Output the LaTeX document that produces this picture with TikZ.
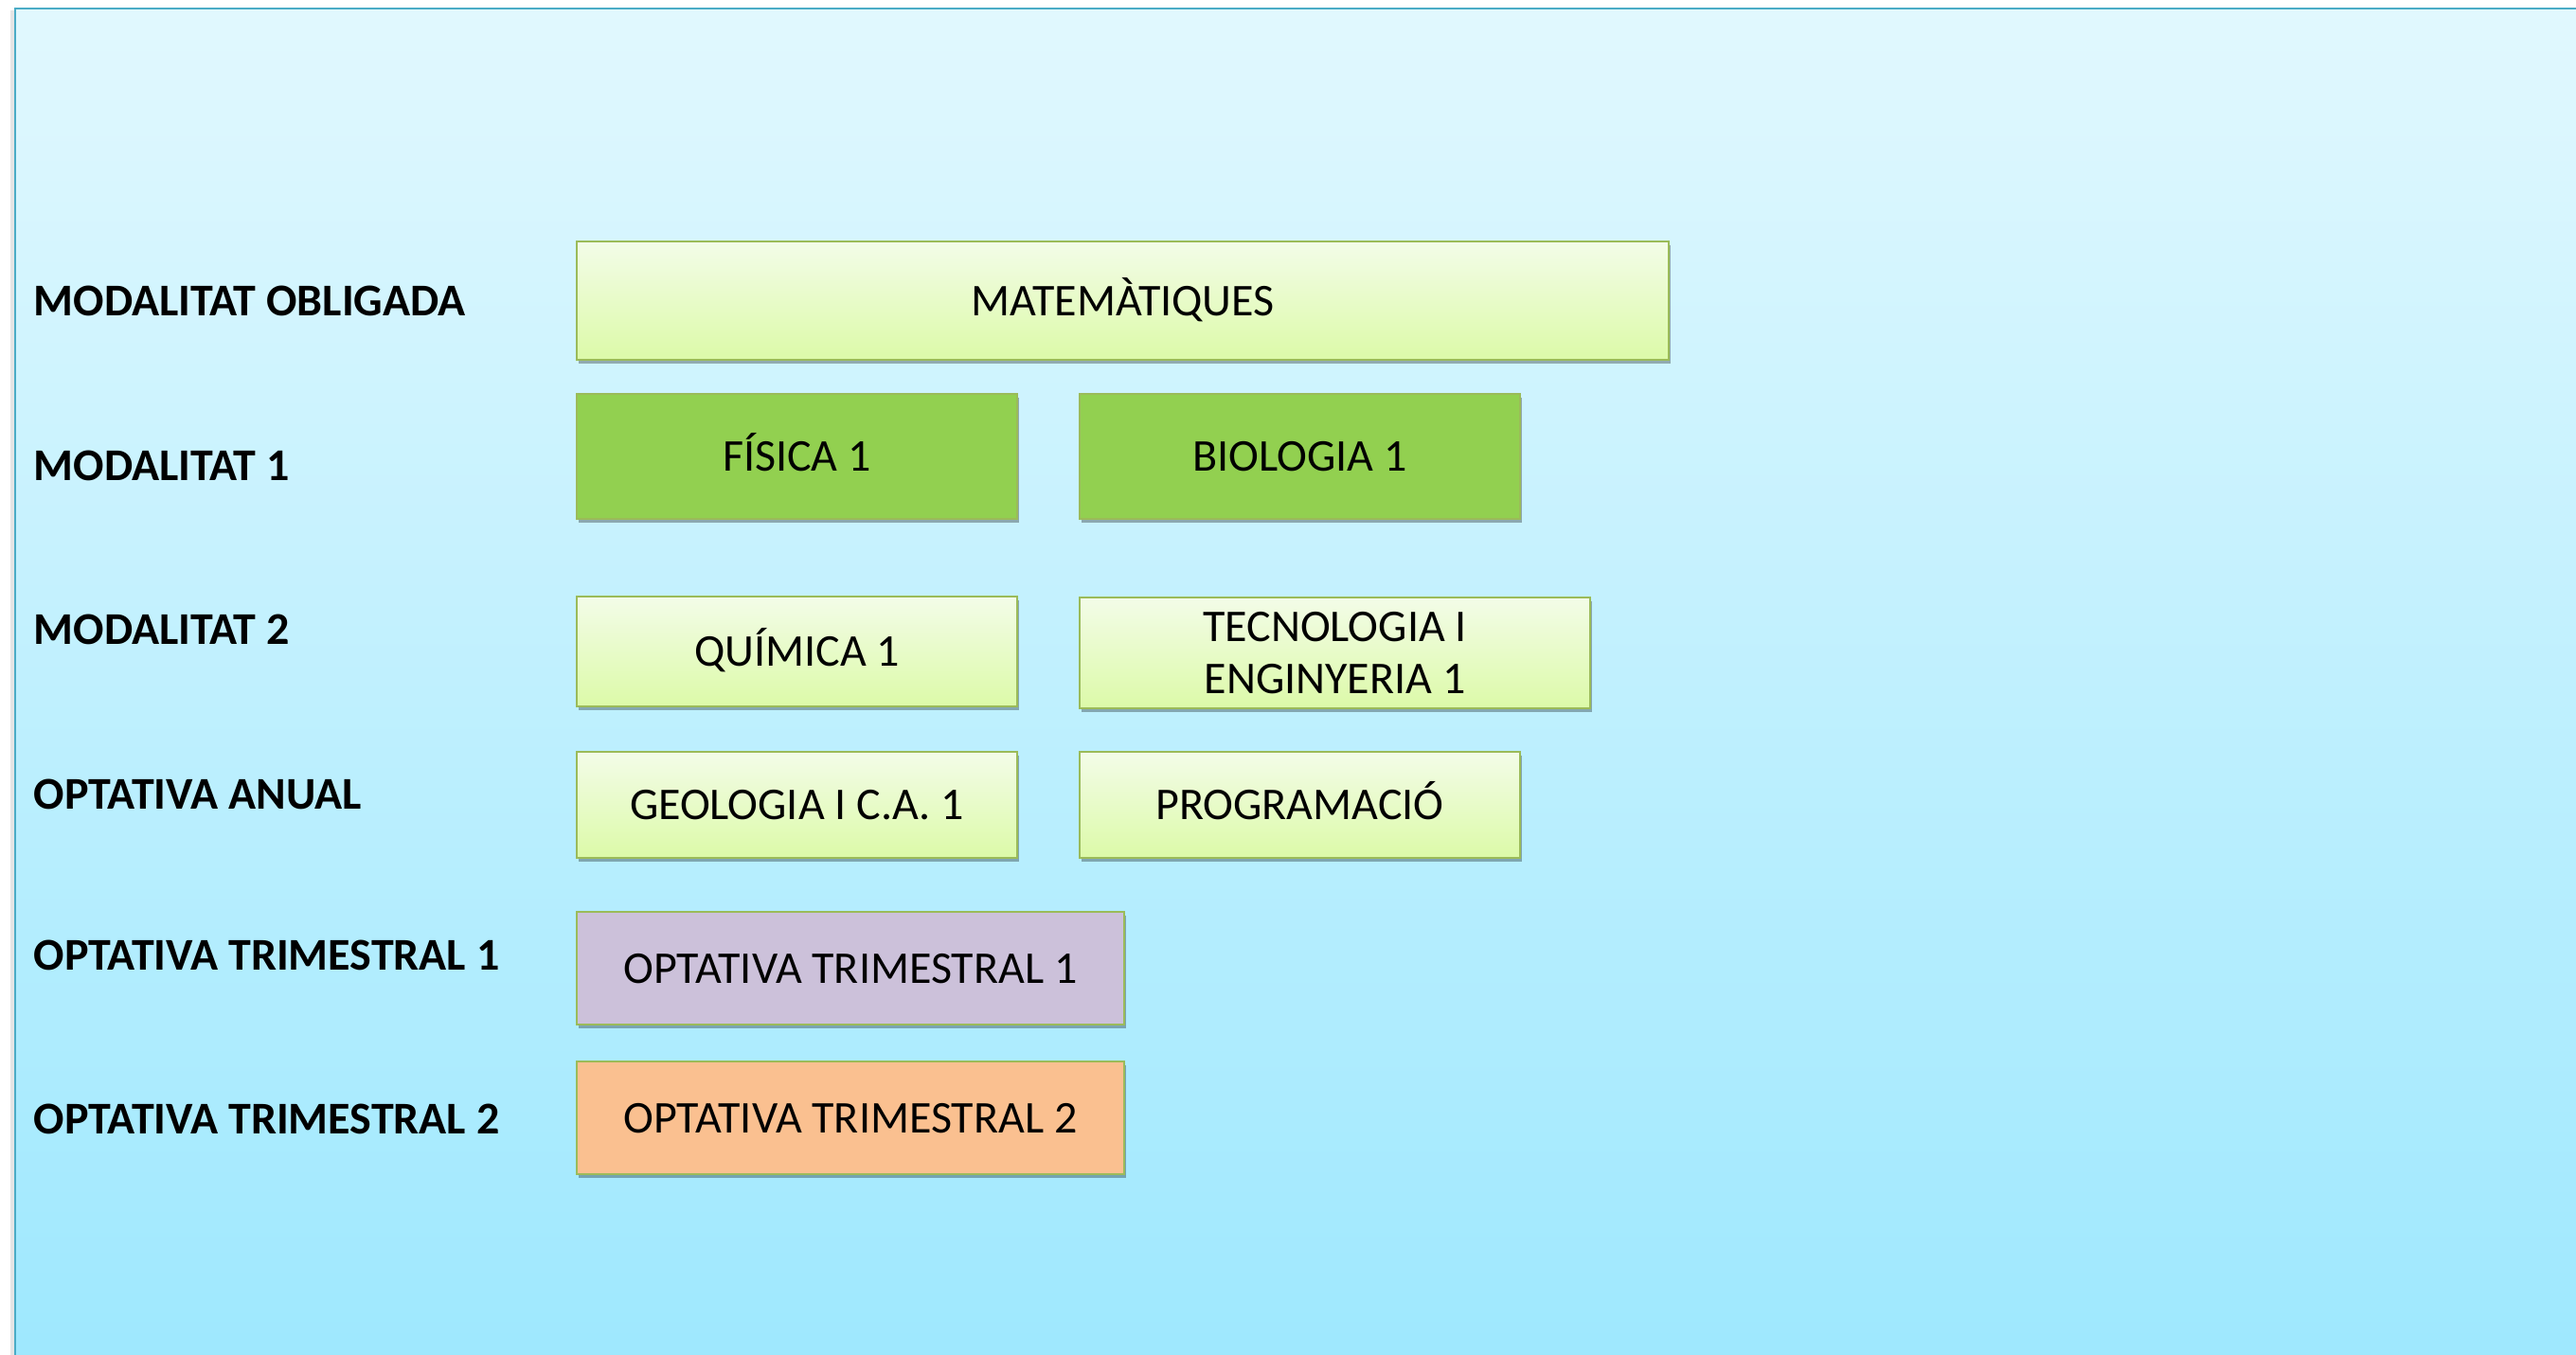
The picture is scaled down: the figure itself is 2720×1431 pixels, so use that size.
\documentclass[tikz,border=0pt]{standalone}
\usepackage{fontspec}
\setmainfont{Carlito}
\usetikzlibrary{shadows}
\definecolor{bgtop}{HTML}{E1F8FE}
\definecolor{bgbot}{HTML}{9EE8FE}
\definecolor{panelborder}{HTML}{4BACC6}
\definecolor{gtop}{HTML}{F3FCE8}
\definecolor{gbot}{HTML}{DCFAA8}
\definecolor{gborder}{HTML}{9BBB59}
\definecolor{gdark}{HTML}{92D050}
\definecolor{lilac}{HTML}{CCC1DA}
\definecolor{peach}{HTML}{FAC090}
\tikzset{
  boxbase/.style={draw=gborder, line width=0.45pt, inner sep=0pt, align=center,
    font=\fontsize{12}{13.9}\selectfont,
    drop shadow={shadow xshift=0.5pt, shadow yshift=-0.9pt, fill=black, opacity=0.3}},
  lightbox/.style={boxbase, top color=gtop, bottom color=gbot},
  darkbox/.style={boxbase, fill=gdark},
  lilacbox/.style={boxbase, fill=lilac},
  peachbox/.style={boxbase, fill=peach},
  rowlabel/.style={anchor=west, inner sep=0pt, font=\fontsize{12}{14}\selectfont\bfseries},
  oneline/.style={text height=0.8em, text depth=0pt}
}
\begin{document}
\begin{tikzpicture}[x=0.25pt,y=-0.25pt]
\useasboundingbox (0,0) rectangle (2720,1431);
\clip (0,0) rectangle (2720,1431);
% panel
\fill[black!10] (11,11) rectangle (2730,1440);
\shade[top color=bgtop, bottom color=bgbot] (15.5,9.5) rectangle (2730,1440);
\draw[panelborder, line width=0.5pt] (2730,9.5) -- (15.5,9.5) -- (15.5,1440);

% row labels
\node[rowlabel] (l1) at (35,318) {MODALITAT OBLIGADA};
\node[rowlabel] (l2) at (35,492) {MODALITAT 1};
\node[rowlabel] (l3) at (35,665) {MODALITAT 2};
\node[rowlabel] (l4) at (35,839) {OPTATIVA ANUAL};
\node[rowlabel] (l5) at (35,1009) {OPTATIVA TRIMESTRAL 1};
\node[rowlabel] (l6) at (35,1182) {OPTATIVA TRIMESTRAL 2};

% boxes
\node[lightbox, oneline, minimum width=288.25pt, minimum height=31.25pt] (mat) at (1185.5,317.5) {MATEMÀTIQUES};
\node[darkbox, oneline, minimum width=116.25pt, minimum height=33pt] (fis) at (841.5,482) {FÍSICA 1};
\node[darkbox, oneline, minimum width=116.25pt, minimum height=33pt] (bio) at (1372.5,482) {BIOLOGIA 1};
\node[lightbox, oneline, minimum width=116.25pt, minimum height=29pt] (qui) at (841.5,688) {QUÍMICA 1};
\node[lightbox, minimum width=134.75pt, minimum height=29.25pt] (tec) at (1409.5,689.5) {TECNOLOGIA I\\ENGINYERIA 1};
\node[lightbox, oneline, minimum width=116.25pt, minimum height=28pt] (geo) at (841.5,850) {GEOLOGIA I C.A. 1};
\node[lightbox, oneline, minimum width=116.25pt, minimum height=28pt] (prog) at (1372.5,850) {PROGRAMACIÓ};
\node[lilacbox, oneline, minimum width=144.5pt, minimum height=29.75pt] (ot1) at (898,1022.5) {OPTATIVA TRIMESTRAL 1};
\node[peachbox, oneline, minimum width=144.5pt, minimum height=29.75pt] (ot2) at (898,1180.5) {OPTATIVA TRIMESTRAL 2};
\end{tikzpicture}
\end{document}
